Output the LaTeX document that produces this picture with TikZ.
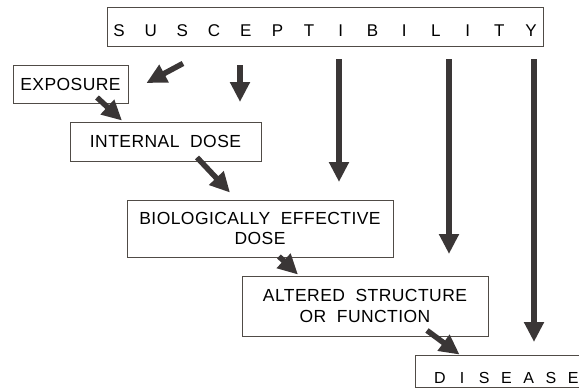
\documentclass[tikz,border=0pt]{standalone}
\usepackage{fontspec}
\setmainfont{Liberation Sans}[LetterSpace=2.5]
\usetikzlibrary{arrows.meta,calc}
\definecolor{ink}{RGB}{58,54,54}
\definecolor{frame}{RGB}{80,75,70}
\newcommand{\lbx}[1]{\makebox[31.7pt]{#1}}
\newcommand{\lbxd}[1]{\makebox[22.2pt]{#1}}
\begin{document}
\begin{tikzpicture}[x=1pt,y=-1pt,
  box/.style={draw=frame, line width=0.9pt, inner sep=0pt, align=center, font=\fontsize{17.5}{20.5}\selectfont},
  fat/.style={draw=ink, line width=5.5pt, -{Triangle[length=20pt,width=19pt]}}]
\useasboundingbox (0,0) rectangle (579,389);
% boxes
\node[box, minimum width=436pt, minimum height=39pt] (susc) at (325,26.5) {};
\node[inner sep=0pt, font=\fontsize{17}{20}\selectfont] (susctext) at (325,31)
  {\lbx{S}\lbx{U}\lbx{S}\lbx{C}\lbx{E}\lbx{P}\lbx{T}\lbx{I}\lbx{B}\lbx{I}\lbx{L}\lbx{I}\lbx{T}\lbx{Y}};
\node[box, minimum width=115pt, minimum height=38pt] (expo) at (70.5,84) {EXPOSURE};
\node[box, minimum width=191pt, minimum height=39pt] (int) at (165.5,141.5) {INTERNAL\ \ DOSE};
\node[box, minimum width=266pt, minimum height=57pt] (bio) at (260,228.5) {BIOLOGICALLY\ \ EFFECTIVE\\DOSE};
\node[box, minimum width=246pt, minimum height=60pt] (alt) at (365,306) {ALTERED\ \ STRUCTURE\\OR\ \ FUNCTION};
\node[box, minimum width=185pt, minimum height=32pt] (dis) at (507.5,371) {};
\node[inner sep=0pt, font=\fontsize{16}{19}\selectfont] (distext) at (506.5,378)
  {\lbxd{D}\lbxd{I}\lbxd{S}\lbxd{E}\lbxd{A}\lbxd{S}\lbxd{E}};
% end points of the susceptibility arrows
\coordinate (e1) at (240,102);
\coordinate (e2) at (339,182);
\coordinate (e3) at (449,254);
\coordinate (e4) at (534,342);
% susceptibility arrows
\draw[fat] ($(susc.south)+(-142,17)$) -- ($(expo.east)+(18,-1)$);
\draw[fat] ($(susc.south)+(-85,19)$) -- (e1);
\draw[fat] ($(susc.south)+(14,13)$) -- (e2);
\draw[fat] ($(susc.south)+(124,13)$) -- (e3);
\draw[fat] ($(susc.south)+(209,13)$) -- (e4);
% chain arrows
\draw[fat] ($(expo.south)+(26.5,-6)$) -- ($(int.north)+(-43.5,-1)$);
\draw[fat] ($(int.south)+(31.5,-4)$) -- ($(bio.north)+(-30,-7)$);
\draw[fat] ($(bio.south)+(19,-1)$) -- ($(alt.north)+(-67,-1)$);
\draw[fat] ($(alt.south)+(62,-6)$) -- ($(dis.north west)+(45,0)$);
\end{tikzpicture}
\end{document}
